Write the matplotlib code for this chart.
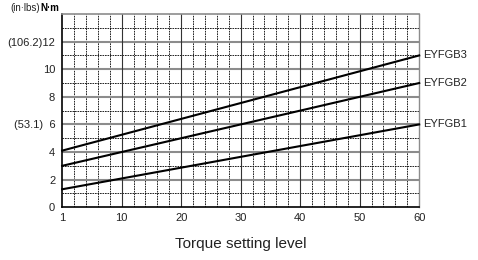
import numpy as np
import matplotlib.pyplot as plt

plt.rcParams['font.family'] = ['Liberation Sans', 'DejaVu Sans']

# torque setting level (axis position 0 is level 1)
levels = [0, 60]
eyfgb1 = [1.3, 6.0]
eyfgb2 = [3.0, 9.0]
eyfgb3 = [4.1, 11.0]
series_names = ['EYFGB1', 'EYFGB2', 'EYFGB3']

x_ticks = [0, 10, 20, 30, 40, 50, 60]
x_labels = ['1', '10', '20', '30', '40', '50', '60']
y_ticks = [0, 2, 4, 6, 8, 10, 12]
y_labels = ['0', '2', '4', '(53.1)  6', '8', '10', '(106.2)12']


def main():
    fig = plt.figure(figsize=(4.78, 2.6), dpi=100)
    ax = fig.add_axes([0.130, 0.203, 0.747, 0.743])
    ax.set_xlim(0, 60)
    ax.set_ylim(0, 14)

    # grid: dashed minor, solid major
    for y in range(1, 14, 2):
        ax.axhline(y, color='black', lw=0.6, ls=(0, (2, 1)), zorder=1)
    for x in range(2, 60, 2):
        if x % 10:
            ax.axvline(x, color='black', lw=0.6, ls=(0, (2, 1)), zorder=1)
    for y in range(2, 14, 2):
        ax.axhline(y, color='#8c8c8c', lw=1.5, zorder=1)
    for x in range(10, 60, 10):
        ax.axvline(x, color='#333333', lw=0.8, zorder=1)

    for vals, name in zip([eyfgb1, eyfgb2, eyfgb3], series_names):
        ax.plot(levels, vals, color='black', lw=1.5, zorder=3, clip_on=False)
        ax.annotate(name, xy=(levels[-1], vals[-1]), xytext=(3, 0),
                    textcoords='offset points', va='center', ha='left',
                    fontsize=8, color='#222222')

    ax.set_xticks(x_ticks)
    ax.set_xticklabels(x_labels)
    ax.set_yticks(y_ticks)
    ax.set_yticklabels(y_labels)
    ax.tick_params(axis='both', length=0, labelsize=8, colors='#222222')
    ax.tick_params(axis='y', pad=5)
    ax.tick_params(axis='x', pad=4)

    ax.spines['left'].set_color('black')
    ax.spines['bottom'].set_color('black')
    ax.spines['left'].set_linewidth(1.2)
    ax.spines['bottom'].set_linewidth(1.2)
    ax.spines['top'].set_color('#8c8c8c')
    ax.spines['right'].set_color('#8c8c8c')
    ax.spines['top'].set_linewidth(1.2)
    ax.spines['right'].set_linewidth(1.0)

    ax.set_xlabel('Torque setting level', fontsize=11, color='#222222', labelpad=10)

    # unit label at top left
    t1 = ax.text(-0.5, 14.1, 'N·m', fontsize=7, fontweight='bold',
                 ha='right', va='bottom', transform=ax.transData)
    ax.annotate('(in·lbs)', xy=(0, 0), xycoords=t1, ha='right', va='bottom',
                fontsize=7, color='#222222')

    fig.savefig('out.png', dpi=100)


if __name__ == '__main__':
    main()
